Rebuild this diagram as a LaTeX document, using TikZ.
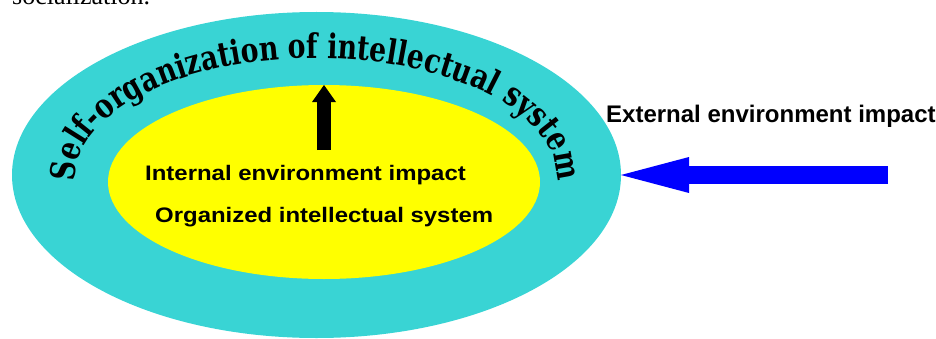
\documentclass[tikz,border=0pt]{standalone}
\usepackage{fontspec}
\newfontfamily\arcfont{DejaVu Serif}[FakeStretch=0.785]
\newfontfamily\widesans{Liberation Sans}[FakeStretch=1.14]
\newfontfamily\plainsans{Liberation Sans}
\newfontfamily\timesfont{Liberation Serif}
\usetikzlibrary{shapes.geometric,decorations.text,arrows.meta}
\definecolor{ringcyan}{RGB}{57,212,212}
\definecolor{coreyellow}{RGB}{255,255,0}
\definecolor{pushblue}{RGB}{0,0,255}
\begin{document}
\begin{tikzpicture}[x=1pt,y=1pt,
  region/.style={ellipse,draw=none,inner sep=0pt,outer sep=0pt},
  txt/.style={inner sep=0pt,anchor=base west},
  innertxt/.style={txt,font=\widesans\bfseries\fontsize{21}{21}\selectfont},
  bigarrow/.style={line width=#1}]
\useasboundingbox (0,0) rectangle (936,338);
\node[region,fill=ringcyan,minimum width=609pt,minimum height=326pt] (outer) at (316.5,163) {};
\node[region,fill=coreyellow,minimum width=432pt,minimum height=194pt] (inner) at (324,156) {};
\path[decorate,decoration={text along path,text align=center,
  text={|\arcfont\bfseries\fontsize{34}{34}\selectfont|Self-organization of intellectual system}}]
  ([shift={(186:241 and 120)}]316,160) arc[start angle=186,end angle=-6,x radius=241,y radius=120];
\coordinate (upstart) at (324,188);
\draw[bigarrow=14pt,black,-{Triangle[length=17pt,width=24pt,line width=0pt]}] (upstart) -- (inner.north);
\coordinate (pushstart) at (888,163);
\draw[bigarrow=18pt,pushblue,-{Triangle[length=68pt,width=36pt,line width=0pt]}] (pushstart) -- (outer.east);
\node[innertxt] (internal) at (145,158) {Internal environment impact};
\node[innertxt] (organized) at (155,116) {Organized intellectual system};
\node[txt,font=\plainsans\bfseries\fontsize{24}{24}\selectfont] (external) at (606,215) {External environment impact};
\node[txt,font=\timesfont\fontsize{26}{26}\selectfont] (social) at (12,333) {socialization.};
\end{tikzpicture}
\end{document}
